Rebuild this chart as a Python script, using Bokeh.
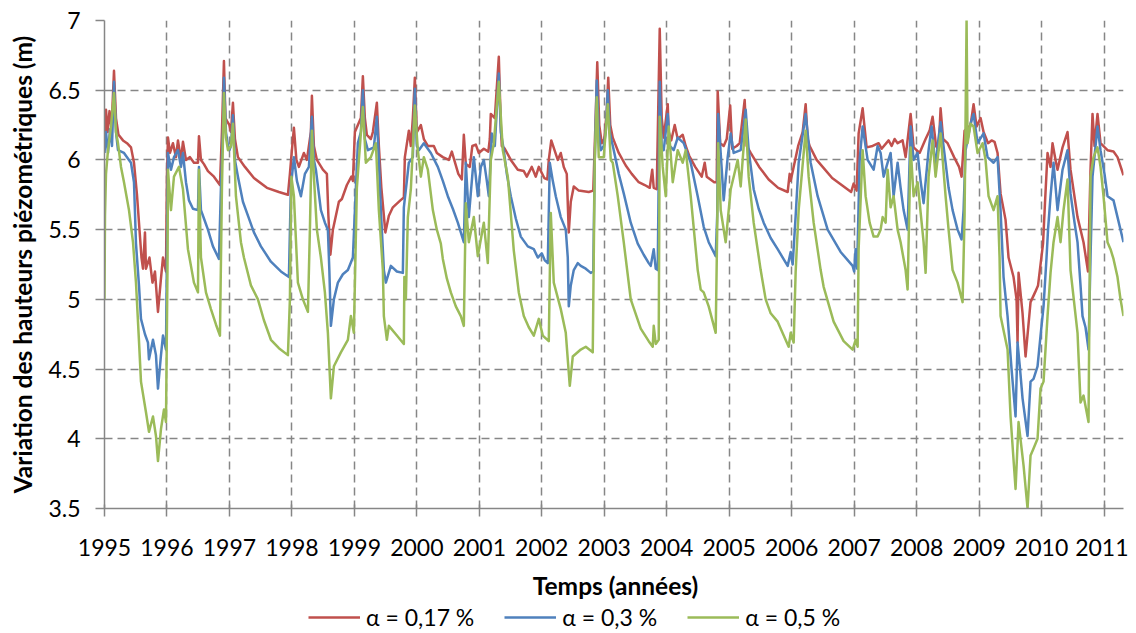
from bokeh.plotting import figure
from bokeh.layouts import column
from bokeh.models import FixedTicker, Legend, LegendItem, Range1d, Label
from bokeh.embed import file_html
from bokeh.resources import INLINE

# ---------------- data ----------------
years = list(range(1995, 2012))
year_labels = [str(y) for y in years]
y_ticks = [3.5, 4, 4.5, 5, 5.5, 6, 6.5, 7]
y_labels = ["3.5", "4", "4.5", "5", "5.5", "6", "6.5", "7"]
series_names = ["α = 0,17 %", "α = 0,3 %", "α = 0,5 %"]
series_colors = ["#C0504D", "#4F81BD", "#9BBB59"]

red_t = [1995.0, 1995.024, 1995.048, 1995.08, 1995.112, 1995.152, 1995.184, 1995.224, 1995.296, 1995.36,
         1995.424, 1995.472, 1995.52, 1995.592, 1995.616, 1995.648, 1995.664, 1995.72, 1995.768, 1995.808,
         1995.856, 1995.904, 1995.936, 1995.984,
         1996.0, 1996.016, 1996.048, 1996.096, 1996.144, 1996.176, 1996.224, 1996.256, 1996.304, 1996.368,
         1996.432, 1996.496, 1996.512, 1996.544, 1996.592, 1996.656, 1996.752, 1996.848, 1996.88, 1996.912,
         1996.936, 1996.96,
         1997.0, 1997.024, 1997.056, 1997.088, 1997.136, 1997.248, 1997.392, 1997.6, 1997.792, 1997.936, 1997.968,
         1998.0, 1998.032, 1998.072, 1998.112, 1998.192, 1998.24, 1998.304, 1998.32, 1998.352, 1998.4, 1998.496,
         1998.56, 1998.584, 1998.616, 1998.656, 1998.704, 1998.752, 1998.8, 1998.88, 1998.952, 1998.976,
         1999.008, 1999.056, 1999.104, 1999.136, 1999.168, 1999.2, 1999.264, 1999.296, 1999.36, 1999.392,
         1999.432, 1999.496, 1999.552, 1999.616, 1999.736, 1999.792, 1999.808, 1999.872, 1999.904, 1999.936, 1999.968,
         2000.0, 2000.064, 2000.112, 2000.176, 2000.272, 2000.32, 2000.416, 2000.512, 2000.56, 2000.664, 2000.72,
         2000.752, 2000.784, 2000.848, 2000.888, 2000.944, 2000.992,
         2001.072, 2001.144, 2001.168, 2001.184, 2001.248, 2001.312, 2001.344, 2001.36, 2001.408, 2001.504,
         2001.616, 2001.712, 2001.76, 2001.84, 2001.904, 2001.952,
         2002.04, 2002.088, 2002.112, 2002.152, 2002.256, 2002.304, 2002.352, 2002.4, 2002.432, 2002.464,
         2002.512, 2002.592, 2002.752, 2002.824, 2002.864, 2002.888, 2002.92, 2002.96,
         2003.0, 2003.04, 2003.064, 2003.096, 2003.136, 2003.232, 2003.344, 2003.44, 2003.552, 2003.648,
         2003.728, 2003.768, 2003.792, 2003.84, 2003.888, 2003.92, 2003.952,
         2004.016, 2004.032, 2004.072, 2004.128, 2004.176, 2004.256, 2004.304, 2004.36, 2004.456, 2004.56,
         2004.608, 2004.64, 2004.76, 2004.8, 2004.816, 2004.856, 2004.912, 2004.96,
         2005.016, 2005.048, 2005.12, 2005.168, 2005.248, 2005.28, 2005.344, 2005.48, 2005.632, 2005.784,
         2005.936, 2005.968, 2005.984,
         2006.032, 2006.104, 2006.176, 2006.224, 2006.256, 2006.288, 2006.4, 2006.496, 2006.648, 2006.8,
         2006.952, 2006.992,
         2007.04, 2007.072, 2007.136, 2007.2, 2007.296, 2007.392, 2007.44, 2007.552, 2007.6, 2007.648,
         2007.696, 2007.776, 2007.824, 2007.904, 2007.952,
         2008.048, 2008.096, 2008.144, 2008.208, 2008.256, 2008.312, 2008.352, 2008.384, 2008.424, 2008.496,
         2008.6, 2008.68, 2008.72, 2008.768, 2008.864, 2008.912, 2008.96,
         2009.024, 2009.072, 2009.144, 2009.2, 2009.248, 2009.296, 2009.344, 2009.424, 2009.472, 2009.552,
         2009.6, 2009.616, 2009.632, 2009.696, 2009.744, 2009.824, 2009.896, 2009.944,
         2010.024, 2010.056, 2010.096, 2010.144, 2010.176, 2010.224, 2010.256, 2010.336, 2010.416, 2010.464,
         2010.576, 2010.672, 2010.744, 2010.784, 2010.816, 2010.848, 2010.896, 2010.944,
         2011.056, 2011.152, 2011.216, 2011.312]
red_v = [6.15, 6.36, 6.2, 6.35, 6.22, 6.64, 6.3, 6.18, 6.14, 6.12,
         6.09, 5.98, 5.75, 5.3, 5.22, 5.48, 5.22, 5.3, 5.12, 5.2,
         4.91, 5.15, 5.3, 5.2,
         5.9, 6.16, 6.05, 6.12, 6.02, 6.14, 6.0, 6.13, 6.0, 6.02,
         5.98, 5.98, 6.17, 6.0, 5.97, 5.92, 5.88, 5.82, 6.2, 6.71,
         6.3, 6.28,
         6.25, 6.2, 6.41, 6.15, 6.02, 5.95, 5.87, 5.8, 5.77, 5.75, 5.9,
         6.07, 6.23, 6.0, 5.95, 6.05, 6.0, 6.2, 6.46, 6.1, 6.0, 5.93,
         5.9, 5.6, 5.32, 5.5, 5.6, 5.7, 5.72, 5.82, 5.88, 5.85,
         6.2, 6.25, 6.3, 6.6, 6.3, 6.18, 6.15, 6.2, 6.41, 6.1,
         5.8, 5.48, 5.6, 5.66, 5.71, 5.73, 6.02, 6.21, 6.1, 6.3, 6.59,
         6.2, 6.25, 6.15, 6.1, 6.1, 6.05, 6.02, 6.0, 6.06, 5.9, 5.86,
         6.18, 5.97, 5.95, 6.1, 6.11, 6.05,
         6.08, 6.06, 6.15, 6.33, 6.3, 6.74, 6.25, 6.1, 6.08, 6.0,
         5.93, 5.92, 5.88, 5.95, 5.88, 5.95,
         5.87, 5.86, 6.0, 6.14, 6.0, 6.05, 5.95, 5.9, 5.48, 5.7,
         5.81, 5.78, 5.77, 5.78, 6.33, 6.7, 6.25, 6.12,
         6.15, 6.35, 6.59, 6.25, 6.16, 6.05, 5.96, 5.9, 5.84, 5.82,
         5.8, 5.93, 5.8, 5.79, 6.94, 6.3, 6.16,
         6.4, 6.2, 6.14, 6.25, 6.15, 6.18, 6.1, 6.03, 5.95, 5.88,
         5.98, 5.88, 5.84, 5.84, 6.49, 6.12, 6.1, 6.15,
         6.39, 6.08, 6.1, 6.12, 6.43, 6.1, 6.05, 5.95, 5.86, 5.8,
         5.77, 5.9, 5.85,
         5.95, 6.1, 6.2, 6.4, 6.15, 6.1, 6.0, 5.95, 5.87, 5.82,
         5.77, 5.83,
         5.78, 6.19, 6.37, 6.09, 6.1, 6.12, 6.08, 6.14, 6.1, 6.15,
         6.12, 6.14, 6.02, 6.33, 6.09,
         6.05, 6.1, 6.15, 6.21, 6.31, 6.1, 6.07, 6.37, 6.15, 6.12,
         6.02, 5.95, 5.88, 6.21, 6.25, 6.4, 6.24,
         6.3, 6.2, 6.12, 6.14, 6.13, 6.05, 5.76, 5.57, 5.3, 5.16,
         5.0, 4.69, 5.19, 4.9, 4.59, 4.98, 5.05, 5.1,
         5.4, 5.7, 6.05, 5.95, 6.12, 6.0, 5.93, 6.09, 6.2, 5.93,
         5.59, 5.41, 5.2, 5.93, 6.33, 6.1, 6.33, 6.12,
         6.07, 6.06, 6.02, 5.89]

blue_t = [1995.0, 1995.024, 1995.056, 1995.088, 1995.12, 1995.152, 1995.184, 1995.216, 1995.312, 1995.392,
          1995.424, 1995.472, 1995.504, 1995.552, 1995.584, 1995.648, 1995.696, 1995.712, 1995.776, 1995.824,
          1995.856, 1995.904, 1995.936, 1995.984,
          1996.008, 1996.016, 1996.064, 1996.112, 1996.176, 1996.224, 1996.256, 1996.304, 1996.352, 1996.416,
          1996.496, 1996.512, 1996.544, 1996.592, 1996.656, 1996.736, 1996.832, 1996.864, 1996.896, 1996.912,
          1996.944, 1996.976,
          1997.0, 1997.024, 1997.056, 1997.088, 1997.136, 1997.216, 1997.296, 1997.392, 1997.504, 1997.664,
          1997.824, 1997.952, 1997.984,
          1998.032, 1998.08, 1998.144, 1998.208, 1998.272, 1998.32, 1998.352, 1998.384, 1998.464, 1998.528,
          1998.576, 1998.6, 1998.624, 1998.672, 1998.736, 1998.816, 1998.896, 1998.976,
          1999.024, 1999.056, 1999.104, 1999.136, 1999.168, 1999.216, 1999.312, 1999.36, 1999.392, 1999.424,
          1999.472, 1999.504, 1999.584, 1999.68, 1999.776, 1999.792, 1999.84, 1999.872, 1999.936, 1999.968,
          2000.0, 2000.032, 2000.112, 2000.224, 2000.336, 2000.416, 2000.496, 2000.576, 2000.656, 2000.752,
          2000.784, 2000.832, 2000.912, 2000.976,
          2001.024, 2001.072, 2001.12, 2001.152, 2001.2, 2001.248, 2001.312, 2001.344, 2001.392, 2001.44,
          2001.504, 2001.584, 2001.664, 2001.776, 2001.872, 2001.936,
          2002.0, 2002.048, 2002.096, 2002.128, 2002.176, 2002.224, 2002.304, 2002.384, 2002.416, 2002.432,
          2002.464, 2002.512, 2002.576, 2002.624, 2002.704, 2002.784, 2002.824, 2002.848, 2002.88, 2002.912,
          2002.944, 2002.992,
          2003.024, 2003.056, 2003.088, 2003.152, 2003.232, 2003.312, 2003.424, 2003.536, 2003.632, 2003.712,
          2003.744, 2003.792, 2003.824, 2003.856, 2003.888, 2003.92, 2003.952,
          2004.016, 2004.048, 2004.112, 2004.176, 2004.272, 2004.384, 2004.496, 2004.592, 2004.672, 2004.784,
          2004.808, 2004.824, 2004.864, 2004.912, 2004.976,
          2005.024, 2005.072, 2005.184, 2005.264, 2005.312, 2005.392, 2005.472, 2005.552, 2005.664, 2005.776,
          2005.936, 2005.984,
          2006.016, 2006.064, 2006.112, 2006.224, 2006.304, 2006.416, 2006.576, 2006.784, 2006.976,
          2007.0, 2007.024, 2007.048, 2007.088, 2007.136, 2007.216, 2007.312, 2007.376, 2007.424, 2007.472,
          2007.536, 2007.584, 2007.632, 2007.696, 2007.744, 2007.792, 2007.856, 2007.904, 2007.952,
          2008.016, 2008.064, 2008.112, 2008.192, 2008.24, 2008.304, 2008.352, 2008.384, 2008.464, 2008.512,
          2008.576, 2008.656, 2008.72, 2008.752, 2008.784, 2008.864, 2008.912, 2008.976,
          2009.072, 2009.136, 2009.232, 2009.296, 2009.344, 2009.392, 2009.456, 2009.52, 2009.584, 2009.616,
          2009.656, 2009.696, 2009.776, 2009.824, 2009.872, 2009.936, 2009.984,
          2010.032, 2010.08, 2010.104, 2010.144, 2010.192, 2010.256, 2010.336, 2010.416, 2010.464, 2010.528,
          2010.576, 2010.624, 2010.656, 2010.704, 2010.752, 2010.784, 2010.816, 2010.896, 2010.944,
          2011.008, 2011.056, 2011.152, 2011.216, 2011.312]
blue_v = [6.05, 6.2, 6.05, 6.22, 6.1, 6.56, 6.2, 6.07, 6.05, 6.0,
          5.98, 5.84, 5.4, 5.1, 4.86, 4.75, 4.69, 4.57, 4.71, 4.6,
          4.36, 4.6, 4.74, 4.64,
          5.7, 6.05, 5.93, 6.02, 6.07, 5.95, 6.05, 5.84, 5.71, 5.65,
          5.64, 5.95, 5.64, 5.58, 5.5, 5.38, 5.29, 5.8, 6.2, 6.59,
          6.2, 6.1,
          6.07, 6.1, 6.32, 6.0, 5.88, 5.7, 5.6, 5.48, 5.38, 5.27,
          5.2, 5.16, 5.81,
          6.02, 5.85, 5.74, 5.9, 5.95, 6.31, 6.0, 5.93, 5.64, 5.55,
          5.5, 5.2, 4.81, 5.0, 5.12, 5.18, 5.21, 5.3,
          5.8, 6.12, 6.2, 6.5, 6.15, 6.07, 6.09, 6.31, 6.0, 5.64,
          5.21, 5.12, 5.24, 5.2, 5.19, 5.66, 5.85, 5.98, 6.02, 6.51,
          6.1, 6.07, 6.12, 6.05, 5.95, 5.85, 5.74, 5.65, 5.55, 5.41,
          5.98, 5.59, 6.02, 5.74,
          5.95, 6.0, 5.85, 5.74, 6.19, 6.1, 6.62, 6.2, 6.07, 5.9,
          5.74, 5.58, 5.45, 5.38, 5.36, 5.3,
          5.33, 5.28, 5.26, 5.98, 5.85, 5.74, 5.59, 5.5, 5.3, 4.95,
          5.1, 5.21, 5.26, 5.24, 5.22, 5.19, 5.2, 6.0, 6.57, 6.2,
          6.07, 6.1,
          6.2, 6.5, 6.2, 6.07, 5.9, 5.76, 5.55, 5.4, 5.32, 5.26,
          5.24, 5.36, 5.22, 5.21, 6.56, 6.1, 6.07,
          6.33, 6.1, 6.07, 6.16, 6.12, 5.98, 5.74, 5.52, 5.41, 5.31,
          5.6, 6.33, 6.05, 5.71, 6.02,
          6.19, 6.05, 6.07, 6.36, 6.07, 5.79, 5.65, 5.55, 5.44, 5.36,
          5.24, 5.34,
          5.25, 5.6, 5.98, 6.33, 5.98, 5.74, 5.5, 5.34, 5.24,
          5.2, 5.36, 5.22, 6.0, 6.24, 6.0, 5.93, 6.1, 6.05, 5.88,
          5.98, 6.05, 5.74, 5.98, 5.8, 5.64, 5.5, 6.24, 6.0,
          6.05, 5.85, 5.69, 6.07, 6.24, 5.95, 6.16, 6.27, 5.98, 5.8,
          5.64, 5.5, 5.43, 5.64, 6.07, 6.26, 6.33, 6.12,
          6.19, 6.02, 5.98, 6.02, 5.64, 5.16, 4.88, 4.5, 4.16, 4.69,
          4.5, 4.29, 4.02, 4.41, 4.43, 4.52, 4.74,
          4.95, 5.3, 5.5, 5.74, 5.98, 5.64, 5.93, 6.07, 5.76, 5.55,
          5.41, 5.1, 4.88, 4.8, 4.64, 5.3, 5.88, 6.24, 6.07,
          5.9, 5.74, 5.71, 5.59, 5.41]

green_t = [1995.0, 1995.008, 1995.024, 1995.056, 1995.104, 1995.152, 1995.184, 1995.216, 1995.264, 1995.312,
           1995.392, 1995.456, 1995.504, 1995.552, 1995.584, 1995.664, 1995.712, 1995.776, 1995.824, 1995.856,
           1995.904, 1995.952, 1995.984,
           1996.008, 1996.016, 1996.064, 1996.112, 1996.192, 1996.256, 1996.336, 1996.432, 1996.496, 1996.512,
           1996.544, 1996.624, 1996.704, 1996.784, 1996.848, 1996.88, 1996.912, 1996.944, 1996.976,
           1997.024, 1997.056, 1997.104, 1997.184, 1997.232, 1997.344, 1997.456, 1997.552, 1997.664, 1997.792,
           1997.936, 1997.968, 1997.992,
           1998.032, 1998.096, 1998.176, 1998.256, 1998.288, 1998.32, 1998.352, 1998.4, 1998.464, 1998.528,
           1998.576, 1998.624, 1998.672, 1998.784, 1998.896, 1998.944, 1998.992,
           1999.04, 1999.072, 1999.136, 1999.184, 1999.264, 1999.344, 1999.392, 1999.456, 1999.472, 1999.52,
           1999.552, 1999.664, 1999.792, 1999.8, 1999.824, 1999.856, 1999.904, 1999.968,
           2000.016, 2000.064, 2000.112, 2000.176, 2000.256, 2000.32, 2000.384, 2000.416, 2000.48, 2000.544,
           2000.624, 2000.704, 2000.752, 2000.784, 2000.832, 2000.912, 2000.976,
           2001.072, 2001.136, 2001.184, 2001.232, 2001.312, 2001.376, 2001.456, 2001.552, 2001.632, 2001.712,
           2001.792, 2001.872, 2001.952,
           2002.016, 2002.112, 2002.144, 2002.192, 2002.304, 2002.384, 2002.448, 2002.496, 2002.624, 2002.704,
           2002.816, 2002.848, 2002.88, 2002.912, 2002.992,
           2003.056, 2003.104, 2003.136, 2003.216, 2003.312, 2003.424, 2003.584, 2003.712, 2003.776, 2003.792,
           2003.824, 2003.872, 2003.888, 2003.936, 2003.984,
           2004.032, 2004.096, 2004.176, 2004.256, 2004.304, 2004.384, 2004.496, 2004.544, 2004.592, 2004.672,
           2004.784, 2004.808, 2004.824, 2004.864, 2004.944,
           2005.024, 2005.136, 2005.184, 2005.264, 2005.312, 2005.392, 2005.504, 2005.584, 2005.664, 2005.776,
           2005.952, 2005.984,
           2006.032, 2006.064, 2006.112, 2006.224, 2006.272, 2006.352, 2006.464, 2006.512, 2006.672, 2006.832,
           2006.976,
           2007.024, 2007.056, 2007.072, 2007.136, 2007.184, 2007.248, 2007.312, 2007.376, 2007.424, 2007.456,
           2007.504, 2007.536, 2007.584, 2007.632, 2007.696, 2007.744, 2007.824, 2007.856, 2007.904, 2007.952,
           2008.016, 2008.112, 2008.144, 2008.192, 2008.256, 2008.304, 2008.384, 2008.464, 2008.512, 2008.576,
           2008.656, 2008.736, 2008.768, 2008.8, 2008.816, 2008.864, 2008.912, 2008.976,
           2009.056, 2009.104, 2009.152, 2009.232, 2009.296, 2009.328, 2009.344, 2009.456, 2009.504, 2009.584,
           2009.632, 2009.712, 2009.776, 2009.824, 2009.872, 2009.936, 2009.984,
           2010.032, 2010.096, 2010.144, 2010.192, 2010.256, 2010.304, 2010.352, 2010.416, 2010.464, 2010.576,
           2010.624, 2010.672, 2010.752, 2010.784, 2010.832, 2010.896, 2010.944, 2010.992,
           2011.056, 2011.104, 2011.152, 2011.216, 2011.264, 2011.312]
green_v = [5.0, 5.6, 5.9, 6.07, 6.24, 6.48, 6.2, 6.12, 5.95, 5.84,
           5.64, 5.41, 5.12, 4.7, 4.41, 4.19, 4.05, 4.16, 4.02, 3.84,
           4.07, 4.21, 4.12,
           5.2, 5.93, 5.64, 5.88, 5.95, 5.79, 5.36, 5.12, 5.05, 5.93,
           5.3, 5.05, 4.93, 4.82, 4.74, 5.8, 6.48, 6.16, 6.07,
           6.1, 6.26, 5.74, 5.41, 5.3, 5.1, 5.0, 4.85, 4.71, 4.65,
           4.6, 5.0, 5.88,
           5.74, 5.12, 5.0, 4.91, 5.5, 6.21, 5.88, 5.5, 5.3, 5.05,
           4.76, 4.29, 4.52, 4.62, 4.71, 4.88, 4.76,
           5.8, 6.0, 6.38, 5.98, 6.02, 6.12, 5.64, 5.21, 4.88, 4.71,
           4.81, 4.75, 4.68, 5.16, 5.0, 5.59, 5.79, 6.39,
           6.07, 5.88, 6.02, 5.93, 5.64, 5.5, 5.4, 5.29, 5.15, 5.05,
           4.95, 4.88, 4.81, 5.69, 5.41, 5.59, 5.31,
           5.55, 5.26, 6.0, 6.12, 6.56, 6.07, 5.88, 5.35, 5.05, 4.88,
           4.8, 4.74, 4.86,
           4.74, 4.7, 5.62, 5.12, 4.93, 4.76, 4.38, 4.59, 4.64, 4.66,
           4.62, 6.0, 6.45, 6.02, 6.02,
           6.4, 6.0, 5.98, 5.74, 5.41, 5.0, 4.79, 4.7, 4.66, 4.81,
           4.68, 4.71, 6.31, 5.95, 5.74,
           6.24, 5.84, 6.07, 5.98, 6.07, 5.74, 5.21, 5.07, 5.05, 4.95,
           4.76, 5.5, 6.12, 5.64, 5.41,
           5.79, 6.0, 5.81, 6.29, 5.88, 5.55, 5.21, 5.0, 4.9, 4.84,
           4.66, 4.76,
           4.69, 5.2, 5.64, 6.21, 5.88, 5.55, 5.21, 5.09, 4.84, 4.7,
           4.64,
           4.71, 4.66, 5.36, 6.07, 5.74, 5.55, 5.45, 5.45, 5.5, 5.59,
           5.55, 5.93, 5.66, 5.74, 5.5, 5.41, 5.21, 5.07, 6.09, 5.74,
           5.84, 5.41, 5.19, 5.88, 6.14, 5.88, 6.19, 5.74, 5.5, 5.21,
           5.12, 4.98, 5.6, 7.0, 6.12, 6.26, 6.24, 6.05,
           6.12, 6.0, 5.74, 5.64, 5.74, 5.3, 4.88, 4.64, 4.16, 3.64,
           4.12, 3.81, 3.5, 3.88, 3.93, 4.0, 4.36,
           4.41, 4.88, 5.19, 5.41, 5.59, 5.41, 5.64, 5.86, 5.21, 4.76,
           4.26, 4.31, 4.12, 5.88, 6.02, 6.09, 5.95, 5.74,
           5.41, 5.36, 5.29, 5.16, 5.0, 4.88]

x_title = "Temps (années)"
y_title = "Variation des hauteurs piézométriques (m)"

# ---------------- main figure ----------------
FONT = "Lato"
GRID = "#868686"

p = figure(frame_width=1019, frame_height=488,
           x_range=Range1d(1995, 2011.312), y_range=Range1d(3.5, 7),
           output_backend="svg", toolbar_location=None,
           min_border_left=104, min_border_right=5, min_border_top=20, min_border_bottom=62)
p.outline_line_color = None
p.background_fill_color = "white"
p.border_fill_color = "white"

p.line(red_t, red_v, line_color=series_colors[0], line_width=2.5, line_join="round")
p.line(blue_t, blue_v, line_color=series_colors[1], line_width=2.5, line_join="round")
p.line(green_t, green_v, line_color=series_colors[2], line_width=2.5, line_join="round")

p.xaxis.ticker = FixedTicker(ticks=years)
p.xaxis.major_label_overrides = {y: l for y, l in zip(years, year_labels)}
p.yaxis.ticker = FixedTicker(ticks=y_ticks)
p.yaxis.major_label_overrides = {t: l for t, l in zip(y_ticks, y_labels)}
p.xaxis.minor_tick_line_color = None
p.yaxis.minor_tick_line_color = None
for ax in (p.xaxis, p.yaxis):
    ax.axis_line_color = GRID
    ax.axis_line_width = 1.5
    ax.major_tick_line_color = GRID
    ax.major_tick_line_width = 1.5
    ax.major_label_text_font = FONT
    ax.major_label_text_font_size = "23px"
    ax.major_label_text_color = "black"
p.xaxis.major_tick_in = 4
p.xaxis.major_tick_out = 8
p.yaxis.major_tick_in = 0
p.yaxis.major_tick_out = 9
p.xaxis.major_label_standoff = 22
p.yaxis.major_label_standoff = 15
p.yaxis.axis_label = y_title
p.yaxis.axis_label_text_font = FONT
p.yaxis.axis_label_text_font_style = "bold"
p.yaxis.axis_label_text_font_size = "24.5px"
p.yaxis.axis_label_text_color = "black"
p.yaxis.axis_label_standoff = 8

p.xgrid.ticker = FixedTicker(ticks=years[1:])
p.ygrid.ticker = FixedTicker(ticks=y_ticks[1:])
for g in (p.xgrid, p.ygrid):
    g.grid_line_color = GRID
    g.grid_line_width = 1.5
    g.grid_line_dash = "8 5"

# ---------------- strip with x-axis title and legend ----------------
# (its frame is aligned with the main frame by the column layout, so screen x is from the frame's left edge)
lf = figure(width=1128, height=63, x_range=Range1d(0, 1), y_range=Range1d(0, 1),
            output_backend="svg", toolbar_location=None,
            x_axis_location=None, y_axis_location=None, min_border=0)
lf.outline_line_color = None
lf.xgrid.visible = False
lf.ygrid.visible = False
lf.background_fill_color = "white"
lf.border_fill_color = "white"

lf.add_layout(Label(x=511, y=48, x_units="screen", y_units="screen", text=x_title,
                    text_font=FONT, text_font_style="bold", text_font_size="24.5px",
                    text_color="black", text_align="center", text_baseline="middle"))

# legend swatch renderers: a single point each, which draws nothing in the strip itself
swatches = [lf.line([-1.0], [-1.0], line_color=c, line_width=2.5) for c in series_colors]
legend = Legend(items=[LegendItem(label=n, renderers=[r]) for n, r in zip(series_names, swatches)],
                orientation="horizontal", location=(204, 2),
                label_text_font=FONT, label_text_font_size="23px", label_text_color="black",
                glyph_width=52, glyph_height=20, label_standoff=6, spacing=30,
                padding=0, margin=0, border_line_color=None, background_fill_alpha=0)
lf.add_layout(legend, "center")

layout = column(p, lf, spacing=0)
open("out.html", "w").write(file_html(layout, INLINE))
